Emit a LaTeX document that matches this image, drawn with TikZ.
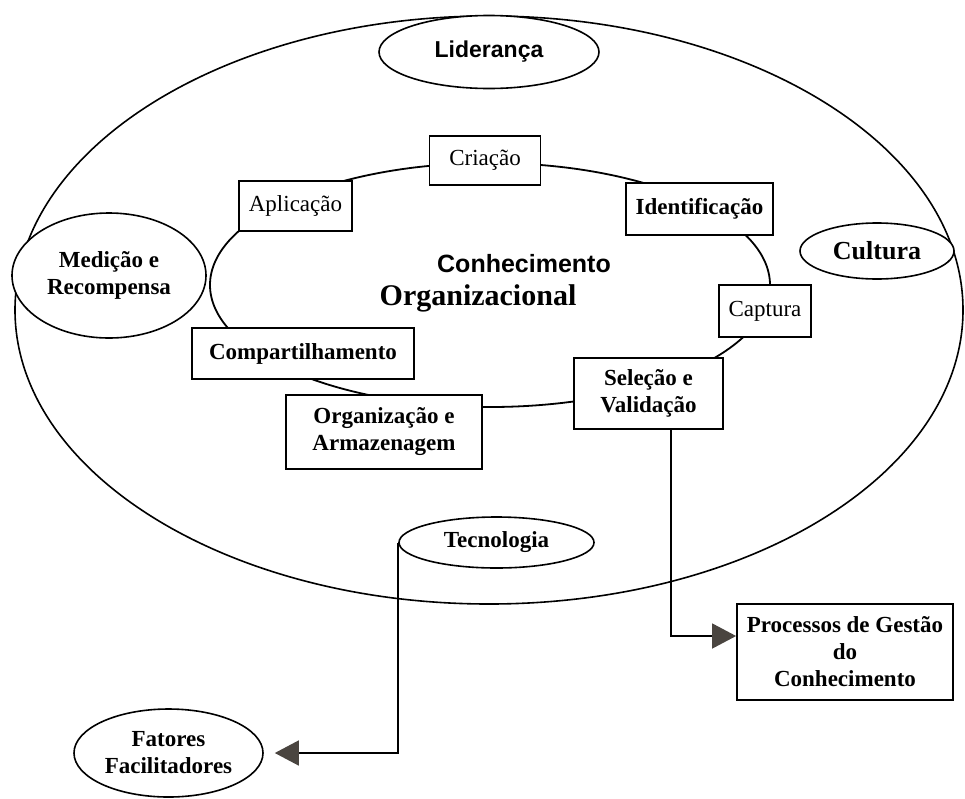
\documentclass[tikz,border=0pt]{standalone}
\usepackage{fontspec}
\setmainfont{Liberation Serif}
\setsansfont{Liberation Sans}
\usetikzlibrary{shapes.geometric,arrows.meta}
\definecolor{tipgray}{HTML}{4A4540}

\begin{document}
\begin{tikzpicture}[x=1pt,y=-1pt,
	box/.style={draw,fill=white,line width=1.8pt,inner sep=0pt,align=center,font=\bfseries\fontsize{23}{27}\selectfont},
	lightbox/.style={box,font=\fontsize{23}{27}\selectfont},
	oval/.style={ellipse,draw,fill=white,line width=1.6pt,inner sep=0pt,align=center,font=\bfseries\fontsize{23}{27}\selectfont},
	link/.style={line width=1.6pt,-{Triangle[length=24pt,width=25pt,color=tipgray]}}]
	\useasboundingbox (0,0) rectangle (965,798);
	\node[ellipse,draw,line width=1.6pt,minimum width=948pt,minimum height=588pt] (outer) at (489,310) {};
	\node[ellipse,draw,line width=1.8pt,minimum width=560pt,minimum height=244pt] (ring) at (490,285) {};
	\node[oval,font=\sffamily\bfseries\fontsize{23}{27}\selectfont,minimum width=220pt,minimum height=73pt] (lid) at (489,52) {Liderança};
	\node[oval,minimum width=194pt,minimum height=125pt] (med) at (109,275.5) {Medição e\\Recompensa};
	\node[oval,font=\bfseries\fontsize{26}{30}\selectfont,minimum width=154pt,minimum height=56pt] (cul) at (877,251) {Cultura};
	\node[oval,minimum width=195pt,minimum height=51pt] (tec) at (496.5,542.5) {Tecnologia};
	\node[oval,minimum width=189pt,minimum height=88pt] (fat) at (168.5,753) {Fatores\\Facilitadores};
	\node[lightbox,minimum width=111pt,minimum height=49pt] (cri) at (485,160.5) {Criação};
	\node[lightbox,minimum width=113pt,minimum height=50pt] (apl) at (295.5,206) {Aplicação};
	\node[box,minimum width=147pt,minimum height=52pt] (ide) at (699.5,209) {Identificação};
	\node[lightbox,minimum width=92pt,minimum height=52pt] (cap) at (765,311) {Captura};
	\node[box,minimum width=149pt,minimum height=71pt] (sel) at (648.5,393.5) {Seleção e\\Validação};
	\node[box,minimum width=196pt,minimum height=74pt] (org) at (384,432) {Organização e\\Armazenagem};
	\node[box,minimum width=222pt,minimum height=51pt] (com) at (303,353.5) {Compartilhamento};
	\node[box,minimum width=216pt,minimum height=96pt] (pro) at (845,652) {Processos de Gestão\\do\\Conhecimento};
	\node[font=\sffamily\bfseries\fontsize{25}{30}\selectfont,anchor=base] (con) at (524,272) {Conhecimento};
	\node[font=\bfseries\fontsize{30}{34}\selectfont,anchor=base] (orgn) at (478,305) {Organizacional};
	\draw[link] ([xshift=22.5pt]sel.south) |- ([yshift=16pt]pro.west);
	\draw[link,shorten >=11pt] (tec.west) |- (fat.east);
\end{tikzpicture}
\end{document}
